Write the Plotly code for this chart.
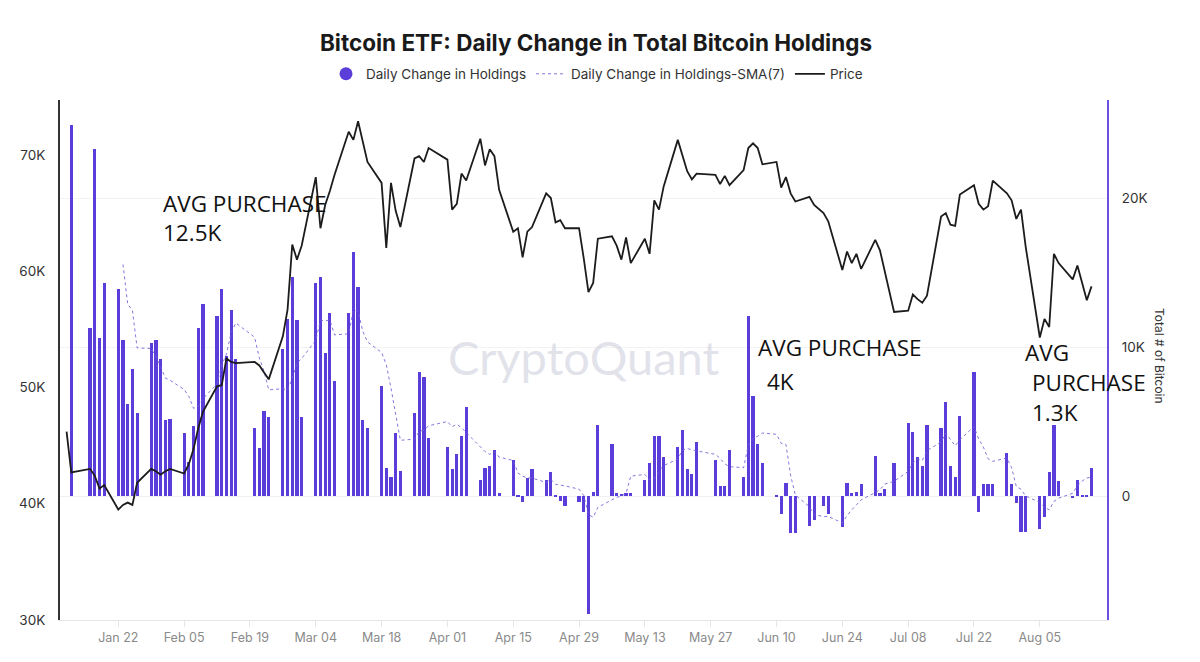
import plotly.graph_objects as go
import pandas as pd

# ---------------- data ----------------
dates = [
    "2024-01-11", "2024-01-12", "2024-01-16", "2024-01-17", "2024-01-18", "2024-01-19",
    "2024-01-22", "2024-01-23", "2024-01-24", "2024-01-25", "2024-01-26",
    "2024-01-29", "2024-01-30", "2024-01-31", "2024-02-01", "2024-02-02",
    "2024-02-05", "2024-02-06", "2024-02-07", "2024-02-08", "2024-02-09",
    "2024-02-12", "2024-02-13", "2024-02-14", "2024-02-15", "2024-02-16",
    "2024-02-20", "2024-02-21", "2024-02-22", "2024-02-23",
    "2024-02-26", "2024-02-27", "2024-02-28", "2024-02-29", "2024-03-01",
    "2024-03-04", "2024-03-05", "2024-03-06", "2024-03-07", "2024-03-08",
    "2024-03-11", "2024-03-12", "2024-03-13", "2024-03-14", "2024-03-15",
    "2024-03-18", "2024-03-19", "2024-03-20", "2024-03-21", "2024-03-22",
    "2024-03-25", "2024-03-26", "2024-03-27", "2024-03-28",
    "2024-04-01", "2024-04-02", "2024-04-03", "2024-04-04", "2024-04-05",
    "2024-04-08", "2024-04-09", "2024-04-10", "2024-04-11", "2024-04-12",
    "2024-04-15", "2024-04-16", "2024-04-17", "2024-04-18", "2024-04-19",
    "2024-04-22", "2024-04-23", "2024-04-24", "2024-04-25", "2024-04-26",
    "2024-04-29", "2024-04-30", "2024-05-01", "2024-05-02", "2024-05-03",
    "2024-05-06", "2024-05-07", "2024-05-08", "2024-05-09", "2024-05-10",
    "2024-05-13", "2024-05-14", "2024-05-15", "2024-05-16", "2024-05-17",
    "2024-05-20", "2024-05-21", "2024-05-22", "2024-05-23", "2024-05-24",
    "2024-05-28", "2024-05-29", "2024-05-30", "2024-05-31",
    "2024-06-03", "2024-06-04", "2024-06-05", "2024-06-06", "2024-06-07",
    "2024-06-10", "2024-06-11", "2024-06-12", "2024-06-13", "2024-06-14",
    "2024-06-17", "2024-06-18", "2024-06-20", "2024-06-21",
    "2024-06-24", "2024-06-25", "2024-06-26", "2024-06-27", "2024-06-28",
    "2024-07-01", "2024-07-02", "2024-07-03", "2024-07-05",
    "2024-07-08", "2024-07-09", "2024-07-10", "2024-07-11", "2024-07-12",
    "2024-07-15", "2024-07-16", "2024-07-17", "2024-07-18", "2024-07-19",
    "2024-07-22", "2024-07-23", "2024-07-24", "2024-07-25", "2024-07-26",
    "2024-07-29", "2024-07-30", "2024-07-31", "2024-08-01", "2024-08-02",
    "2024-08-05", "2024-08-06", "2024-08-07", "2024-08-08", "2024-08-09",
    "2024-08-12", "2024-08-13", "2024-08-14", "2024-08-15", "2024-08-16",
]

# Bitcoin price (USD)
price = [
    46200, 42700, 43000, 42400, 41300, 41600,
    39500, 39900, 40100, 39900, 41800,
    43000, 42800, 42500, 42800, 43000,
    42600, 43400, 44700, 46500, 47900,
    50100, 50200, 52500, 52200, 52100,
    52200, 51900, 51300, 50700,
    54400, 56700, 62300, 61000, 62200,
    68100, 63700, 65700, 66900, 68300,
    72000, 71300, 72900, 71100, 69400,
    67600, 62000, 67600, 65200, 63800,
    69700, 69900, 69400, 70600,
    69600, 65300, 65800, 68400, 67800,
    71400, 69100, 70500, 69900, 67000,
    63400, 63700, 61200, 63400, 63800,
    66700, 66300, 64200, 64400, 63700,
    63700, 61100, 58200, 59000, 62800,
    63000, 62200, 61000, 62900, 60700,
    62800, 61500, 66100, 65300, 67300,
    71300, 69900, 68600, 67900, 68400,
    68300, 67500, 68200, 67400,
    68700, 70600, 71000, 70600, 69200,
    69400, 67200, 68100, 66700, 66000,
    66400, 65700, 65000, 64300,
    60100, 61700, 60700, 61500, 60200,
    62700, 61800, 60100, 56500,
    56600, 58000, 57600, 57300, 57900,
    64700, 65000, 64000, 63900, 66600,
    67400, 65800, 65300, 65600, 67800,
    66700, 66100, 64500, 65300, 62100,
    54300, 55900, 55200, 61500, 60700,
    59300, 60500, 59000, 57500, 58700,
]

# Daily change in ETF bitcoin holdings (BTC); first trading day has no change
holdings = [
    None, 24900, 11300, 23300, 10600, 14300,
    13900, 10500, 6200, 8500, 5600,
    10300, 10500, 9200, 5100, 5200,
    4200, 2300, 4700, 11300, 12900,
    12100, 13900, 9400, 12500, 9200,
    4600, 3200, 5700, 5300,
    9900, 11900, 14700, 11800, 5300,
    14300, 14700, 9600, 12300, 7700,
    12300, 16400, 14000, 5100, 4600,
    7400, 1900, 1300, 4200, 1700,
    5600, 8300, 8000, 3900,
    3300, 1800, 2800, 4000, 6000,
    1100, 1900, 2000, 3100, 200,
    2400, 100, -400, 1200, 1800,
    1100, 1600, 100, -300, -700,
    -400, -1100, -7900, 300, 4800,
    3500, 200, 150, 200, 200,
    1100, 2200, 4000, 4000, 2600,
    3300, 4400, 1800, 1500, 3600,
    2400, 700, 700, 3100,
    1300, 12100, 6700, 3500, 2200,
    100, -1200, 900, -2500, -2500,
    -2000, -1600, -700, -1200,
    -2100, 900, 200, 300, 800,
    2700, 200, 500, 2200,
    4900, 4300, 2600, 2000, 4800,
    4600, 6300, 2000, 1300, 5400,
    8300, -1100, 800, 800, 800,
    2900, 800, -500, -2400, -2400,
    -2200, -1400, 1600, 4800, 1000,
    -100, 1100, 50, 50, 1900,
]

date_ticks = ["2024-01-22", "2024-02-05", "2024-02-19", "2024-03-04", "2024-03-18",
              "2024-04-01", "2024-04-15", "2024-04-29", "2024-05-13", "2024-05-27",
              "2024-06-10", "2024-06-24", "2024-07-08", "2024-07-22", "2024-08-05"]
price_ticks = [30000, 40000, 50000, 60000, 70000]
price_tick_text = ["30K", "40K", "50K", "60K", "70K"]
btc_ticks = [0, 10000, 20000]
btc_tick_text = ["0", "10K", "20K"]

# 7-day simple moving average of the daily change
hold_series = pd.Series(holdings, index=pd.to_datetime(dates), dtype="float").dropna()
sma7 = hold_series.rolling(7).mean()

# ---------------- styling ----------------
PURPLE = "#5b3ed9"
FONT = "Inter"
OFF = 8                      # page body margin of the browser
W, H = 1184, 646
L, T = 52, 92
PW, PH = 1047, 520
R, B = W - L - PW, H - T - PH


def px_x(px):                # screen pixel -> paper fraction
    return (px - OFF - L) / PW


def px_y(py):
    return (T + PH - (py - OFF)) / PH


fig = go.Figure()

fig.add_trace(go.Bar(
    x=hold_series.index, y=hold_series.values,
    marker=dict(color=PURPLE, line=dict(width=0)),
    width=0.68 * 86400000,
    name="Daily Change in Holdings", showlegend=False, yaxis="y",
))
# legend entry with a round marker
fig.add_trace(go.Scatter(
    x=[None], y=[None], mode="markers",
    marker=dict(color=PURPLE, size=13, symbol="circle"),
    name="Daily Change in Holdings", yaxis="y",
))
fig.add_trace(go.Scatter(
    x=sma7.index, y=sma7.values, mode="lines",
    line=dict(color="rgba(110,95,215,0.85)", width=1, dash="dot"),
    name="Daily Change in Holdings-SMA(7)", yaxis="y",
))
fig.add_trace(go.Scatter(
    x=pd.to_datetime(dates), y=price, mode="lines",
    line=dict(color="#1c1c1c", width=1.8),
    name="Price", yaxis="y2",
))

annotations = [
    dict(text="CryptoQuant", x=px_x(583), y=px_y(357), xanchor="center", yanchor="middle",
         font=dict(family="Lato", size=47, color="rgba(196,198,214,0.5)")),
    dict(text="AVG PURCHASE", x=px_x(161), y=px_y(204)),
    dict(text="12.5K", x=px_x(161), y=px_y(232)),
    dict(text="AVG PURCHASE", x=px_x(756), y=px_y(347)),
    dict(text="4K", x=px_x(765), y=px_y(381)),
    dict(text="AVG", x=px_x(1023), y=px_y(352)),
    dict(text="PURCHASE", x=px_x(1030), y=px_y(382)),
    dict(text="1.3K", x=px_x(1030), y=px_y(412)),
    dict(text="Total # of Bitcoin", x=px_x(1160), y=px_y(356), xanchor="center",
         yanchor="middle", textangle=90, font=dict(family=FONT, size=12, color="#333")),
]
for a in annotations:
    a.setdefault("xref", "paper")
    a.setdefault("yref", "paper")
    a.setdefault("xanchor", "left")
    a.setdefault("yanchor", "middle")
    a.setdefault("showarrow", False)
    a.setdefault("font", dict(family="Open Sans", size=22.5, color="#111"))

fig.update_layout(
    width=W, height=H,
    margin=dict(l=L, r=R, t=T, b=B, autoexpand=False),
    paper_bgcolor="white", plot_bgcolor="white",
    font=dict(family=FONT, color="#333"),
    title=dict(text="<b>Bitcoin ETF: Daily Change in Total Bitcoin Holdings</b>",
               x=(596 - OFF) / W, xref="container", y=1 - (43 - OFF) / H, yref="container",
               xanchor="center", yanchor="middle",
               font=dict(family=FONT, size=22.5, color="#1a1a1a")),
    legend=dict(orientation="h", xref="container", yref="container",
                x=(597 - OFF) / W, y=1 - (74 - OFF) / H, xanchor="center", yanchor="middle",
                font=dict(family=FONT, size=13.5, color="#333"),
                itemwidth=30, bgcolor="rgba(0,0,0,0)"),
    bargap=0,
    showlegend=True,
    xaxis=dict(
        type="date",
        range=["2024-01-09 14:24", "2024-08-19 07:00"],
        tickvals=date_ticks, tickformat="%b %d",
        showgrid=False, zeroline=False,
        showline=True, linecolor="#e6e6e6", linewidth=1,
        ticks="outside", ticklen=6, tickcolor="#e6e6e6",
        tickfont=dict(family=FONT, size=12.5, color="#8a8a8a"),
    ),
    yaxis=dict(
        side="right", range=[-8320, 26580],
        tickvals=btc_ticks, ticktext=btc_tick_text,
        showgrid=True, gridcolor="#f3f3f3", gridwidth=1,
        zeroline=True, zerolinecolor="#f0f0f0", zerolinewidth=1,
        showline=True, linecolor="#6a4fe0", linewidth=2,
        ticks="", ticklabelstandoff=10,
        tickfont=dict(family=FONT, size=13.5, color="#333"),
    ),
    yaxis2=dict(
        side="left", overlaying="y", range=[30000, 74730],
        tickvals=price_ticks, ticktext=price_tick_text,
        showgrid=False, zeroline=False,
        showline=True, linecolor="#333", linewidth=2,
        ticks="", ticklabelstandoff=10,
        tickfont=dict(family=FONT, size=13.5, color="#333"),
    ),
    annotations=annotations,
)

fig.write_html("out.html")
